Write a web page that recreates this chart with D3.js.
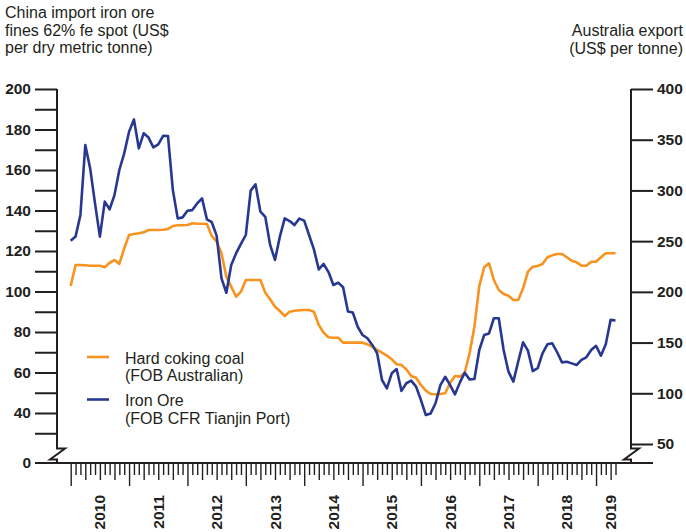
<!DOCTYPE html>
<html>
<head>
<meta charset="utf-8">
<script src="https://cdn.jsdelivr.net/npm/d3@7"></script>
<style>
  body { margin: 0; background: #fff; }
  svg { display: block; font-family: "Liberation Sans", Arial, Helvetica, sans-serif; }
  .tick text { font-weight: bold; font-size: 15.5px; fill: #231f20; }
</style>
</head>
<body>
<div id="chart"></div>
<script>
// monthly series, Jan 2010 .. May 2019
var startYear = 2010;

// iron ore, US$ per dry metric tonne (left axis)
var ironOre = [125.1, 127.1, 137.8, 172.3, 160.8, 143.5, 127.1, 144.4, 140.6, 147.6, 160, 168.2,
  178.9, 185, 170.7, 178.1, 176, 171.2, 172.7, 176.9, 176.8, 150.1, 136.1, 136.6,
  139.9, 140.2, 143.5, 146, 135.6, 134.2, 127.6, 106.5, 99.4, 113.1, 118.8, 123.5,
  127.9, 149.8, 152.9, 139.4, 136.9, 123, 115.6, 127.1, 136.1, 134.8, 132.8, 136,
  135, 127.9, 120.8, 110.9, 113.6, 109.6, 103.2, 104.4, 102.1, 90.1, 89.6, 82.6,
  78.5, 76.9, 73.6, 69.5, 56.3, 52.2, 59.6, 61.7, 50.9, 54.7, 56, 53,
  46.4, 39, 39.8, 44.8, 53.8, 57.9, 53.8, 49.2, 55, 59.9, 56.6, 56.8,
  71.1, 78.5, 79.3, 86.8, 86.8, 71.1, 60.4, 55.5, 65.4, 74.9, 70.8, 60.7,
  62.1, 69.5, 73.9, 74.4, 70, 65, 65.3, 64.5, 63.7, 66.2, 67.5, 71.1,
  73.2, 68.3, 73.9, 86, 85.7];

// hard coking coal, US$ per tonne (right axis)
var cokingCoal = [205.8, 226.5, 226.5, 226.2, 225.8, 225.8, 225.8, 224.2, 228.7, 231.4, 227.5, 242.9,
  256.1, 257, 257.7, 258.7, 261, 261, 261, 261.3, 262, 264.9, 265.6, 265.6,
  265.9, 267.6, 267.2, 267.2, 266.9, 255.1, 249.5, 238, 214.9, 205.1, 195.2, 200.2,
  211.7, 211.7, 211.7, 211.7, 199.2, 192.7, 185.4, 181.1, 176.2, 180.4, 181.4, 181.8,
  182.1, 182.1, 180.4, 167.3, 159.7, 155.2, 154.8, 154.8, 149.9, 149.9, 149.9, 149.9,
  149.9, 148.3, 145.9, 142.7, 140, 137.1, 133.5, 128.6, 127.9, 123.6, 117, 115.4,
  108.2, 102.6, 99.3, 99, 99.3, 100, 110.4, 117, 116.4, 120.3, 139.4, 165.7,
  205.8, 224.2, 228.2, 211.7, 201.8, 197.9, 196.2, 192, 192, 203.5, 219.9, 224.8,
  225.5, 227.5, 234.1, 236, 237.3, 237.3, 234.1, 230.7, 229.1, 225.8, 225.8, 229.7,
  229.7, 234.1, 238, 238, 238];

var yearLabels = ["2010", "2011", "2012", "2013", "2014", "2015", "2016", "2017", "2018", "2019"];
var leftTicks = d3.range(30, 201, 10);
var rightTicks = d3.range(50, 401, 50);

var seriesNames = [
  ["Hard coking coal", "(FOB Australian)"],
  ["Iron Ore", "(FOB CFR Tianjin Port)"]
];
var leftTitle = ["China import iron ore", "fines 62% fe spot (US$", "per dry metric tonne)"];
var rightTitle = ["Australia export", "(US$ per tonne)"];

var svgWidth = 686;
var svgHeight = 532;
var ink = "#231f20";
var orange = "#f7931e";
var blue = "#283891";

var axisLeftX = 57;
var axisRightX = 631;
var baseY = 463;

var svg = d3.select("#chart")
  .append("svg")
  .attr("width", svgWidth)
  .attr("height", svgHeight);

var months = d3.range(ironOre.length);

var xScale = d3.scaleLinear()
  .domain([0, months.length - 1])
  .range([70.7, 615.5]);

var yLeft = d3.scaleLinear()
  .domain([30, 200])
  .range([433.25, 89]);

var yRight = d3.scaleLinear()
  .domain([50, 400])
  .range([444, 89]);

// titles
svg.append("text")
  .attr("x", 5)
  .attr("y", 18)
  .attr("font-size", 16)
  .attr("fill", ink)
  .selectAll("tspan")
  .data(leftTitle)
  .enter()
  .append("tspan")
  .attr("x", 5)
  .attr("dy", (d, i) => i === 0 ? 0 : 17.7)
  .text(d => d);

svg.append("text")
  .attr("y", 36)
  .attr("font-size", 16)
  .attr("fill", ink)
  .attr("text-anchor", "end")
  .selectAll("tspan")
  .data(rightTitle)
  .enter()
  .append("tspan")
  .attr("x", 683)
  .attr("dy", (d, i) => i === 0 ? 0 : 17.7)
  .text(d => d);

// left axis
var leftAxis = d3.axisLeft(yLeft)
  .tickValues(leftTicks)
  .tickSize(22)
  .tickPadding(4)
  .tickFormat(d => (d >= 40 && d % 20 === 0) ? d : "");

var gLeft = svg.append("g")
  .attr("transform", `translate(${axisLeftX},0)`)
  .call(leftAxis);

// right axis
var rightAxis = d3.axisRight(yRight)
  .tickValues(rightTicks)
  .tickSize(22)
  .tickPadding(4);

var gRight = svg.append("g")
  .attr("transform", `translate(${axisRightX},0)`)
  .call(rightAxis);

[gLeft, gRight].forEach(function(g) {
  g.select(".domain").remove();
  g.selectAll(".tick line").attr("stroke", ink).attr("stroke-width", 2);
});

// zero label on the left
svg.append("text")
  .attr("x", 31)
  .attr("y", baseY)
  .attr("dy", "0.35em")
  .attr("text-anchor", "end")
  .attr("font-size", 15.5)
  .attr("font-weight", "bold")
  .attr("fill", ink)
  .text("0");

// vertical axis lines with break
function brokenAxis(x) {
  return `M${x},89 L${x},448.5 L${x + 8},448.5 L${x - 7},459.5 L${x},459.5 L${x},${baseY}`;
}
[axisLeftX, axisRightX].forEach(function(x) {
  svg.append("path")
    .attr("d", brokenAxis(x))
    .attr("fill", "none")
    .attr("stroke", ink)
    .attr("stroke-width", 2);
});

// baseline
svg.append("line")
  .attr("x1", 35)
  .attr("x2", 653)
  .attr("y1", baseY)
  .attr("y2", baseY)
  .attr("stroke", ink)
  .attr("stroke-width", 2);

// month ticks
var bottomAxis = d3.axisBottom(xScale)
  .tickValues(months)
  .tickSize(12)
  .tickFormat("");

var gBottom = svg.append("g")
  .attr("transform", `translate(0,${baseY})`)
  .call(bottomAxis);

gBottom.select(".domain").remove();
gBottom.selectAll(".tick line")
  .attr("stroke", ink)
  .attr("stroke-width", 1.4)
  .attr("y2", d => d % 12 === 0 ? 23 : (d % 3 === 0 ? 17 : 12));

// year labels
var lastMonth = months.length - 1;
svg.append("g")
  .selectAll("text")
  .data(yearLabels)
  .enter()
  .append("text")
  .attr("transform", function(d, i) {
    var mid = Math.min(i * 12 + 6, lastMonth - 1);
    return `translate(${xScale(mid)},495) rotate(-90)`;
  })
  .attr("dy", "0.36em")
  .attr("text-anchor", "end")
  .attr("font-size", 15.5)
  .attr("font-weight", "bold")
  .attr("fill", ink)
  .text(d => d);

// lines
var coalLine = d3.line()
  .x((d, i) => xScale(i))
  .y(d => yRight(d));

var oreLine = d3.line()
  .x((d, i) => xScale(i))
  .y(d => yLeft(d));

svg.append("path")
  .datum(cokingCoal)
  .attr("d", coalLine)
  .attr("fill", "none")
  .attr("stroke", orange)
  .attr("stroke-width", 2.6)
  .attr("stroke-linejoin", "round");

svg.append("path")
  .datum(ironOre)
  .attr("d", oreLine)
  .attr("fill", "none")
  .attr("stroke", blue)
  .attr("stroke-width", 2.6)
  .attr("stroke-linejoin", "round");

// legend
var legendColors = [orange, blue];
var legendY = [357, 399.5];

var legend = svg.append("g");
seriesNames.forEach(function(lines, i) {
  legend.append("line")
    .attr("x1", 87)
    .attr("x2", 109)
    .attr("y1", legendY[i])
    .attr("y2", legendY[i])
    .attr("stroke", legendColors[i])
    .attr("stroke-width", 2.6);

  legend.append("text")
    .attr("y", legendY[i] + 6.5)
    .attr("font-size", 16)
    .attr("fill", ink)
    .selectAll("tspan")
    .data(lines)
    .enter()
    .append("tspan")
    .attr("x", 125)
    .attr("dy", (d, j) => j === 0 ? 0 : 17.5)
    .text(d => d);
});
</script>
</body>
</html>
